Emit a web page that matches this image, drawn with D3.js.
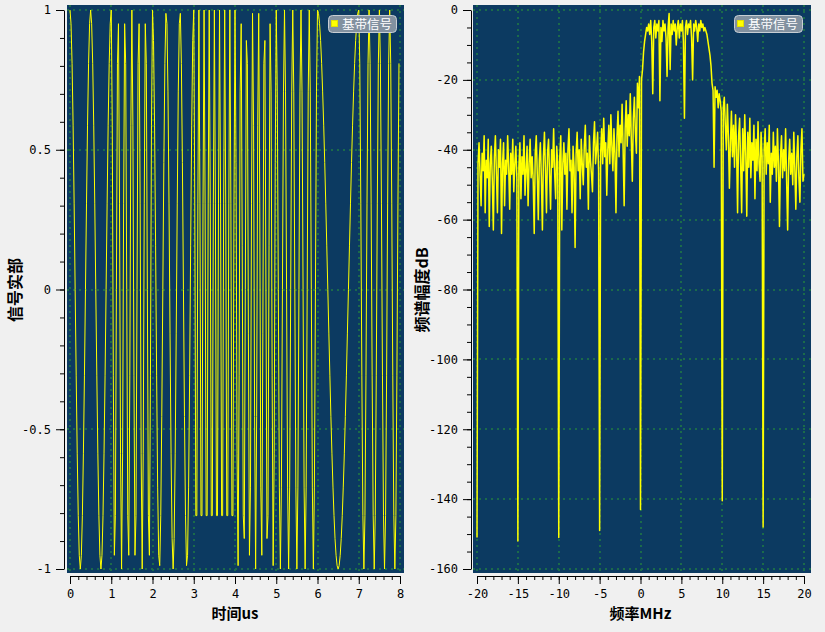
<!DOCTYPE html>
<html><head><meta charset="utf-8">
<script src="https://cdn.jsdelivr.net/npm/d3@7"></script>
<style>
html,body{margin:0;padding:0;background:#f0f0f0;}
svg{display:block;}
</style></head><body>
<svg id="c" width="825" height="632"></svg>
<script>
// ---------------- data ----------------
const timeStepUs = 0.025;           // sample spacing of the time signal (us)
// real part of the baseband signal, read sample by sample (8 chips of 40 samples)
const signalReal = [
 1,.951,.809,.588,.309,0,-.309,-.588,-.809,-.951,-1,-.951,-.809,-.588,-.309,0,.309,.588,.809,.951,
 1,.951,.809,.588,.309,0,-.309,-.588,-.809,-.951,-1,-.951,-.809,-.588,-.309,0,.309,.588,.809,.951,
 1,.588,-.309,-.951,-.809,0,.809,.951,.309,-.588,-1,-.588,.309,.951,.809,0,-.809,-.951,-.309,.588,
 1,.588,-.309,-.951,-.809,0,.809,.951,.309,-.588,-1,-.588,.309,.951,.809,0,-.809,-.951,-.309,.588,
 1,.891,.588,.156,-.309,-.707,-.951,-.988,-.809,-.454,0,.454,.809,.988,.951,.707,.309,-.156,-.588,-.891,
 -1,-.891,-.588,-.156,.309,.707,.951,.988,.809,.454,0,-.454,-.809,-.988,-.951,-.707,-.309,.156,.588,.891,
 1,.309,-.809,-.809,.309,1,.309,-.809,-.809,.309,1,.309,-.809,-.809,.309,1,.309,-.809,-.809,.309,
 1,.309,-.809,-.809,.309,1,.309,-.809,-.809,.309,1,.309,-.809,-.809,.309,1,.309,-.809,-.809,.309,
 1,.454,-.588,-.988,-.309,.707,.951,.156,-.809,-.891,0,.891,.809,-.156,-.951,-.707,.309,.988,.588,-.454,
 -1,-.454,.588,.988,.309,-.707,-.951,-.156,.809,.891,0,-.891,-.809,.156,.951,.707,-.309,-.988,-.588,.454,
 1,.707,0,-.707,-1,-.707,0,.707,1,.707,0,-.707,-1,-.707,0,.707,1,.707,0,-.707,
 -1,-.707,0,.707,1,.707,0,-.707,-1,-.707,0,.707,1,.707,0,-.707,-1,-.707,0,.707,
 1,.988,.951,.891,.809,.707,.588,.454,.309,.156,0,-.156,-.309,-.454,-.588,-.707,-.809,-.891,-.951,-.988,
 -1,-.988,-.951,-.891,-.809,-.707,-.588,-.454,-.309,-.156,0,.156,.309,.454,.588,.707,.809,.891,.951,.988,
 1,.809,.309,-.309,-.809,-1,-.809,-.309,.309,.809,1,.809,.309,-.309,-.809,-1,-.809,-.309,.309,.809,
 1,.809,.309,-.309,-.809,-1,-.809,-.309,.309,.809,1,.809,.309,-.309,-.809,-1,-.809,-.309,.309,.809
];

const freqStartMHz = -20, freqStepMHz = 0.125;
// spectrum magnitude (dB), one value per 0.125 MHz from -20 to 20
const spectrumDb = [
 -151,-44,-38,-47,-56,-41,-46,-36,
 -58,-43,-48,-37,-62,-44,-39,-49,
 -63,-42,-36,-47,-58,-40,-45,-37,
 -64,-44,-38,-56,-43,-47,-36,-45,
 -57,-41,-47,-37,-52,-44,-39,-48,
 -152,-45,-38,-54,-42,-47,-36,-53,
 -46,-39,-56,-44,-37,-48,-42,-49,
 -64,-41,-36,-47,-60,-43,-38,-48,
 -63,-42,-35,-46,-58,-41,-37,-47,
 -57,-40,-45,-34,-47,-54,-39,-44,
 -151,-42,-36,-63,-44,-38,-47,-41,
 -57,-40,-34,-46,-43,-58,-39,-45,
 -68,-41,-35,-46,-40,-54,-37,-44,
 -50,-39,-33,-45,-41,-57,-36,-43,
 -47,-52,-38,-32,-44,-40,-35,-46,
 -149,-41,-34,-44,-31,-42,-38,-53,
 -40,-33,-44,-30,-39,-46,-34,-41,
 -58,-36,-29,-42,-33,-38,-27,-40,
 -56,-34,-26,-39,-30,-36,-24,-37,
 -49,-31,-25,-35,-41,-21,-28,-19,
 -143,-20,-17,-12,-9,-7,-5,-6,
 -4,-7,-3,-9,-24,-5,-3,-8,
 -4,-6,-3,-26,-5,-9,-3,-6,
 -4,-8,-19,-5,-1,-17,-4,-7,
 -3,-6,-4,-10,-5,-3,-8,-4,
 -6,-3,-9,-31,-5,-3,-7,-4,
 -5,-3,-8,-20,-4,-6,-3,-5,
 -9,-4,-6,-3,-5,-4,-6,-5,
 -6,-7,-9,-11,-13,-16,-21,-23,
 -45,-22,-25,-23,-28,-24,-26,-29,
 -140.5,-28,-25,-33,-40,-27,-36,-51,
 -38,-29,-42,-33,-45,-30,-39,-58,
 -36,-31,-44,-58,-34,-46,-30,-41,
 -59,-35,-45,-31,-48,-38,-43,-33,
 -54,-37,-46,-32,-44,-49,-35,-42,
 -148,-40,-34,-47,-38,-44,-33,-55,
 -41,-47,-35,-45,-39,-49,-34,-44,
 -62,-42,-36,-48,-40,-46,-34,-49,
 -63,-43,-37,-47,-41,-50,-35,-45,
 -57,-42,-36,-48,-55,-40,-34,-49,
 -47
];

const timeTicks = [0,1,2,3,4,5,6,7,8];
const realTicks = [-1,-0.5,0,0.5,1];
const freqTicks = [-20,-15,-10,-5,0,5,10,15,20];
const dbTicks = [0,-20,-40,-60,-80,-100,-120,-140,-160];
const legendLabel = "基带信号";
const leftXTitle = "时间us", leftYTitle = "信号实部";
const rightXTitle = "频率MHz", rightYTitle = "频谱幅度dB";

// ---------------- drawing ----------------
const svg = d3.select("#c");
const C = {bg:"#0c3a61", grid:"#1b6b4a", line:"#ffff00"};
const tickFont = "'DejaVu Sans Mono', monospace";
const cjkFont = "'Noto Sans CJK SC', sans-serif";

function panel(o){
  const g = svg.append("g");
  g.append("rect").attr("x",o.cx0).attr("y",5).attr("width",o.cx1-o.cx0).attr("height",568).attr("fill",C.bg);
  const x = d3.scaleLinear().domain(o.xDom).range(o.xRange);
  const y = d3.scaleLinear().domain(o.yDom).range([569,10]);
  const gg = g.append("g").attr("stroke",C.grid).attr("stroke-width",2).attr("stroke-dasharray","2,4");
  o.xTicks.forEach(v=>gg.append("line").attr("x1",Math.round(x(v))).attr("x2",Math.round(x(v))).attr("y1",5).attr("y2",573));
  o.yTicks.forEach(v=>gg.append("line").attr("y1",Math.round(y(v))).attr("y2",Math.round(y(v))).attr("x1",o.cx0).attr("x2",o.cx1));
  const cid = "clip"+o.id;
  svg.append("clipPath").attr("id",cid).append("rect").attr("x",o.cx0).attr("y",5).attr("width",o.cx1-o.cx0).attr("height",568);
  const line = d3.line().x((d,i)=>x(o.xOf(i))).y(d=>y(d));
  g.append("path").datum(o.data).attr("clip-path",`url(#${cid})`)
    .attr("fill","none").attr("stroke",C.line).attr("stroke-width",o.lw).attr("stroke-linejoin","round").attr("d",line);
  g.append("g").attr("transform",`translate(${o.yAxisX},0)`)
    .call(d3.axisLeft(y).tickValues(o.yTicks).tickSize(8).tickPadding(5).tickSizeOuter(0).tickFormat(d=>String(d)));
  g.append("g").attr("transform",`translate(${o.yAxisX},0)`)
    .call(d3.axisLeft(y).tickValues(o.yMinor).tickSize(4).tickSizeOuter(0).tickFormat("")).select(".domain").remove();
  g.append("g").attr("transform",`translate(0,576)`)
    .call(d3.axisBottom(x).tickValues(o.xTicks).tickSize(8).tickPadding(5).tickSizeOuter(0).tickFormat(d=>String(d)));
  g.append("g").attr("transform",`translate(0,576)`)
    .call(d3.axisBottom(x).tickValues(o.xMinor).tickSize(4).tickSizeOuter(0).tickFormat("")).select(".domain").remove();
  g.selectAll(".tick text").attr("font-family",tickFont).attr("font-size",12).attr("fill","#000");
  g.selectAll("path.domain, .tick line").attr("stroke","#000");
  g.append("text").attr("x",(o.xRange[0]+o.xRange[1])/2).attr("y",619).attr("text-anchor","middle")
    .attr("font-family",cjkFont).attr("font-weight","bold").attr("font-size",15).attr("fill","#000").text(o.xTitle);
  g.append("text").attr("transform",`translate(${o.yTitleX},290) rotate(-90)`).attr("text-anchor","middle")
    .attr("dominant-baseline","central")
    .attr("font-family",cjkFont).attr("font-weight","bold").attr("font-size",16).attr("fill","#000").text(o.yTitle);
  const lg = g.append("g").attr("transform",`translate(${o.legX},15)`);
  lg.append("rect").attr("x",0.5).attr("y",0.5).attr("width",68).attr("height",17).attr("rx",4)
    .attr("fill","rgb(130,145,160)").attr("stroke","rgb(200,206,212)");
  lg.append("rect").attr("x",3.5).attr("y",5.5).attr("width",6).attr("height",6).attr("fill",C.line).attr("stroke","#e0e000");
  lg.append("text").attr("x",14).attr("y",13.5).attr("font-family",cjkFont).attr("font-size",12.5)
    .attr("fill","#fff").text(legendLabel);
}

panel({id:"L", cx0:67, cx1:404, xDom:[0,8], xRange:[70,400], yDom:[-1,1],
  xTicks:timeTicks, yTicks:realTicks, xMinor:d3.range(0,8.001,0.2), yMinor:d3.range(-1,1.001,0.1),
  data:signalReal, xOf:i=>i*timeStepUs, yAxisX:64, yTitleX:14, legX:328, lw:1,
  xTitle:leftXTitle, yTitle:leftYTitle});

panel({id:"R", cx0:473, cx1:811, xDom:[-20,20], xRange:[477,804], yDom:[-160,0],
  xTicks:freqTicks, yTicks:dbTicks, xMinor:d3.range(-20,20.001,1), yMinor:d3.range(-160,0.001,5),
  data:spectrumDb, xOf:i=>freqStartMHz+i*freqStepMHz, yAxisX:471, yTitleX:421, legX:734, lw:1.5,
  xTitle:rightXTitle, yTitle:rightYTitle});
</script>
</body></html>
